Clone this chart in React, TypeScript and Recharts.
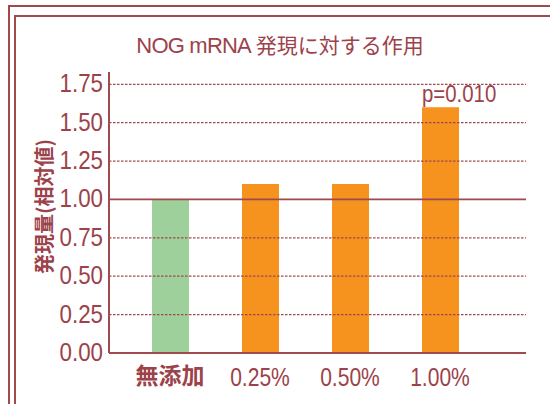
import React from 'react';
import { BarChart, Bar, XAxis, YAxis, Cell, ReferenceLine, LabelList } from 'recharts';

const categories = ['無添加', '0.25%', '0.50%', '1.00%'];
const values = [1.0, 1.1, 1.1, 1.6];
const notes = ['', '', '', 'p=0.010'];
const yTicks = [0, 0.25, 0.5, 0.75, 1.0, 1.25, 1.5, 1.75];
const dottedLines = [0.25, 0.5, 0.75, 1.25, 1.5, 1.75];
const solidLine = 1.0;
const barColors = ['#9dd09a', '#f6921e', '#f6921e', '#f6921e'];
const titleLatin = 'NOG mRNA';
const titleCjk = '発現に対する作用';
const yLabel = '発現量(相対値)';

const data = categories.map((c, i) => ({ name: c, value: values[i], note: notes[i] }));

const RED = '#9c424a';
const LINE = '#a0494f';
const NUM_FONT = "'Liberation Sans', Arial, sans-serif";
const CJK_FONT = "'Noto Sans CJK JP', 'Noto Sans', sans-serif";

const XTick = (props: any) => {
  const { x, y, payload } = props;
  const v = String(payload.value);
  const isCjk = /[^\x00-\x7f]/.test(v);
  if (isCjk) {
    return (
      <text x={x} y={y + 17} textAnchor="middle" fill={RED} fontSize={23} fontWeight={700} fontFamily={CJK_FONT}>
        {v}
      </text>
    );
  }
  return (
    <text
      transform={`translate(${x} ${y + 19}) scale(0.81 1)`}
      x={0}
      y={0}
      textAnchor="middle"
      fill={RED}
      fontSize={26}
      fontFamily={NUM_FONT}
    >
      {v}
    </text>
  );
};

const YTick = (props: any) => {
  const { x, y, payload } = props;
  return (
    <text
      transform={`translate(${x} ${y + 8}) scale(0.86 1)`}
      x={0}
      y={0}
      textAnchor="end"
      fill={RED}
      fontSize={26}
      fontFamily={NUM_FONT}
    >
      {Number(payload.value).toFixed(2)}
    </text>
  );
};

const YLabel = (props: any) => {
  const vb = props.viewBox || { x: 0, y: 72, width: 109, height: 281 };
  const cx = vb.x + 43;
  const cy = vb.y + vb.height / 2 - 6;
  return (
    <text
      x={cx}
      y={cy}
      transform={`rotate(-90 ${cx} ${cy})`}
      textAnchor="middle"
      dominantBaseline="central"
      fill={RED}
      fontSize={20}
      fontWeight={700}
      fontFamily={CJK_FONT}
    >
      {yLabel}
    </text>
  );
};

const NoteLabel = (props: any) => {
  const { x, y, value } = props;
  if (!value) return null;
  return (
    <text
      transform={`translate(${x} ${y - 5}) scale(0.85 1)`}
      x={0}
      y={0}
      textAnchor="start"
      fill={RED}
      fontSize={24}
      fontFamily={NUM_FONT}
    >
      {value}
    </text>
  );
};

export default function App() {
  return (
    <div style={{ position: 'absolute', left: 0, top: 0, width: 550, height: 404, overflow: 'hidden', background: '#fff' }}>
      <div style={{ position: 'absolute', left: 7.5, top: 4.8, width: 700, height: 600, border: `2.6px solid ${LINE}` }} />
      <div style={{ position: 'absolute', left: 14.2, top: 15, width: 700, height: 600, border: `2.6px solid ${LINE}` }} />
      <div
        style={{
          position: 'absolute',
          left: 80,
          top: 31,
          width: 400,
          textAlign: 'center',
          color: RED,
          fontSize: 21,
          lineHeight: '26px',
          fontFamily: CJK_FONT,
          whiteSpace: 'nowrap',
        }}
      >
        <span style={{ fontFamily: NUM_FONT, fontSize: 22, letterSpacing: '-0.8px' }}>{titleLatin}</span> {titleCjk}
      </div>
      <div style={{ position: 'absolute', left: 0, top: 0 }}>
        <BarChart width={550} height={404} data={data} margin={{ top: 72, right: 24, bottom: 21, left: 0 }}>
          <XAxis
            dataKey="name"
            height={30}
            padding={{ left: 16, right: 41 }}
            axisLine={{ stroke: LINE, strokeWidth: 2 }}
            tickLine={false}
            tickSize={0}
            tickMargin={14}
            tick={<XTick />}
            interval={0}
          />
          <YAxis
            width={109}
            domain={[0, 1.83]}
            ticks={yTicks}
            interval={0}
            axisLine={{ stroke: LINE, strokeWidth: 2 }}
            tickLine={false}
            tickSize={0}
            tickMargin={6}
            tick={<YTick />}
            label={<YLabel />}
          />
          <Bar dataKey="value" barSize={37} isAnimationActive={false}>
            {data.map((d, i) => (
              <Cell key={d.name} fill={barColors[i]} />
            ))}
            <LabelList dataKey="note" content={<NoteLabel />} />
          </Bar>
          {dottedLines.map((v) => (
            <ReferenceLine key={v} y={v} stroke={LINE} strokeWidth={1.2} strokeDasharray="2.5 1.5" />
          ))}
          <ReferenceLine y={solidLine} stroke={LINE} strokeWidth={1.8} />
        </BarChart>
      </div>
    </div>
  );
}
